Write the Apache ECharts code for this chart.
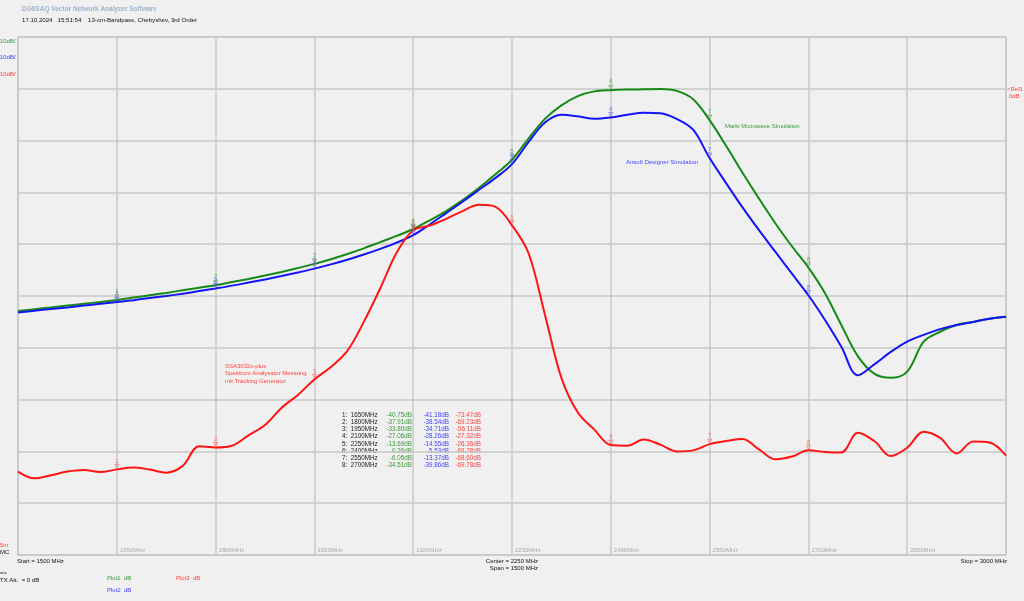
<!DOCTYPE html>
<html>
<head>
<meta charset="utf-8">
<script src="https://cdn.jsdelivr.net/npm/echarts@6/dist/echarts.min.js"></script>
<style>
html, body { margin: 0; padding: 0; background: #f0f0f0; }
#vna { width: 1024px; height: 601px; }
</style>
</head>
<body>
<div id="vna"></div>
<script>
// frequency points (MHz)
var freqs = [1500, 1525, 1550, 1575, 1600, 1625, 1650, 1675, 1700, 1725, 1750, 1775, 1800, 1825, 1850, 1875, 1900, 1925, 1950, 1975,
  2000, 2025, 2050, 2075, 2100, 2125, 2150, 2175, 2200, 2225, 2250, 2275, 2300, 2325, 2350, 2375, 2400, 2425, 2450, 2475,
  2500, 2525, 2550, 2575, 2600, 2625, 2650, 2675, 2700, 2725, 2750, 2775, 2800, 2825, 2850, 2875, 2900, 2925, 2950, 2975, 3000];

// Plot1: Marki Microwave Simulation (dB)
var plot1 = [-42.9, -42.55, -42.2, -41.85, -41.5, -41.15, -40.75, -40.3, -39.85, -39.4, -38.9, -38.4, -37.91, -37.3, -36.7, -36.05, -35.35, -34.6, -33.8, -32.9,
  -31.9, -30.8, -29.6, -28.4, -27.06, -25.4, -23.6, -21.5, -19.1, -16.5, -13.69, -9.6, -5.8, -3.2, -1.4, -0.5, -0.26, -0.15, -0.1, -0.05,
  -0.4, -2.0, -6.05, -11.0, -16.2, -21.2, -26.0, -30.4, -34.51, -39.4, -45.6, -51.6, -55.0, -55.8, -54.6, -48.8, -46.9, -45.6, -45.0, -44.4, -44.0];

// Plot2: Ansoft Designer Simulation (dB)
var plot2 = [-43.2, -42.85, -42.5, -42.2, -41.85, -41.5, -41.18, -40.8, -40.4, -40.0, -39.55, -39.05, -38.54, -38.0, -37.4, -36.8, -36.15, -35.45, -34.71, -33.9,
  -33.0, -32.0, -30.9, -29.7, -28.26, -26.2, -24.0, -21.8, -19.5, -17.2, -14.55, -10.3, -6.5, -5.0, -5.3, -5.8, -5.53, -5.0, -4.6, -4.7,
  -5.8, -7.9, -13.37, -18.2, -22.9, -27.3, -31.5, -35.7, -39.86, -44.6, -49.8, -55.3, -53.2, -50.8, -48.8, -47.5, -46.4, -45.6, -45.0, -44.4, -44.0];

// Plot3: SSA3032x-plus measurement (dB)
var plot3 = [-73.9, -75.2, -74.6, -73.9, -73.6, -74.0, -73.47, -73.1, -73.5, -74.1, -72.8, -69.0, -69.23, -68.9, -66.9, -64.9, -61.6, -59.1, -56.11, -53.7,
  -50.6, -45.0, -38.5, -31.6, -27.32, -26.4, -25.1, -23.6, -22.4, -22.8, -26.36, -31.7, -43.6, -55.8, -62.5, -65.8, -68.78, -68.9, -67.7, -68.7,
  -70.0, -69.8, -68.6, -68.0, -67.6, -69.6, -71.5, -71.0, -69.78, -70.1, -70.2, -66.4, -68.0, -70.9, -69.3, -66.2, -67.4, -70.4, -68.1, -68.3, -70.8];

// markers
var markerFreqs = [1650, 1800, 1950, 2100, 2250, 2400, 2550, 2700];
var markerPlot1 = [-40.75, -37.91, -33.80, -27.06, -13.69, -0.26, -6.05, -34.51];
var markerPlot2 = [-41.18, -38.54, -34.71, -28.26, -14.55, -5.53, -13.37, -39.86];
var markerPlot3 = [-73.47, -69.23, -56.11, -27.32, -26.36, -68.78, -68.60, -69.78];

var FONT = '"Liberation Sans", Arial, sans-serif';
var cGreen = '#168a16', cBlue = '#1414f5', cRed = '#ff1414';
var tGreen = '#3a9a3a', tBlue = '#4444ff', tRed = '#ff4444';

var dom = document.getElementById('vna');
var myChart = echarts.init(dom, null, { renderer: 'canvas' });

function pairs(ys) { return freqs.map(function (f, i) { return [f, ys[i]]; }); }
function mpairs(ys) { return markerFreqs.map(function (f, i) { return [f, ys[i]]; }); }

function markerSeries(ys, col) {
  return {
    type: 'scatter',
    data: mpairs(ys),
    symbol: 'triangle',
    symbolRotate: 180,
    symbolSize: 4,
    symbolOffset: [0, -3],
    itemStyle: { color: 'rgba(0,0,0,0)', borderColor: col, borderWidth: 0.8 },
    label: {
      show: true, position: 'top', distance: 0,
      formatter: function (p) { return String(p.dataIndex + 1); },
      color: col, fontSize: 6, fontFamily: FONT
    },
    silent: true, z: 5
  };
}

function txt(x, y, text, fill, font, align) {
  return {
    type: 'text', x: x, y: y, silent: true,
    style: { text: text, fill: fill, font: font || ('6px ' + FONT), align: align || 'left', verticalAlign: 'middle' }
  };
}

var g = [];
g.push(txt(22, 9, 'DG8SAQ Vector Network Analyzer Software', '#9fb3cc', 'bold 6.5px ' + FONT));
g.push(txt(22, 20, '17.10.2024   15:51:54    13-cm-Bandpass, Chebyshev, 3rd Order', '#111', '6.1px ' + FONT));
g.push(txt(0, 41, '10dB/', tGreen));
g.push(txt(0, 57, '10dB/', tBlue));
g.push(txt(0, 74, '10dB/', tRed));
g.push(txt(1007, 89, '<Ref1', tRed));
g.push(txt(1009, 96, '0dB', tRed));
g.push(txt(0, 545, '5m', tRed));
g.push(txt(0, 552, 'MC', '#111'));
g.push(txt(17, 561, 'Start = 1500 MHz', '#111'));
g.push(txt(538, 561, 'Center = 2250 MHz', '#111', null, 'right'));
g.push(txt(538, 568, 'Span = 1500 MHz', '#111', null, 'right'));
g.push(txt(1007, 561, 'Stop = 3000 MHz', '#111', null, 'right'));
g.push(txt(0, 573, '=>', '#111'));
g.push(txt(0, 580, 'TX Att.  = 0 dB', '#111'));
g.push(txt(107, 578, 'Plot1  dB', tGreen));
g.push(txt(176, 578, 'Plot3  dB', tRed));
g.push(txt(107, 590, 'Plot2  dB', tBlue));
g.push(txt(725, 126, 'Marki Microwave Simulation', tGreen));
g.push(txt(626, 162, 'Ansoft Designer Simulation', tBlue));
g.push(txt(225, 366, 'SSA3032x-plus', tRed));
g.push(txt(225, 373.5, 'Spektrum Analysator Messung', tRed));
g.push(txt(225, 381, 'mit Tracking Generator', tRed));

// marker table
markerFreqs.forEach(function (f, i) {
  var y = 415 + i * 7.2;
  g.push(txt(342, y, (i + 1) + ':  ' + f + 'MHz', '#222', '6.3px ' + FONT));
  g.push(txt(412, y, markerPlot1[i].toFixed(2) + 'dB', tGreen, '6.3px ' + FONT, 'right'));
  g.push(txt(449, y, markerPlot2[i].toFixed(2) + 'dB', tBlue, '6.3px ' + FONT, 'right'));
  g.push(txt(481, y, markerPlot3[i].toFixed(2) + 'dB', tRed, '6.3px ' + FONT, 'right'));
});

var option = {
  animation: false,
  backgroundColor: '#f0f0f0',
  grid: { left: 18, right: 18, top: 37, bottom: 46, show: true, borderColor: '#c4c4c4', borderWidth: 1.5, backgroundColor: 'transparent' },
  xAxis: {
    type: 'value', min: 1500, max: 3000, interval: 150,
    axisLine: { show: false }, axisTick: { show: false },
    splitLine: { show: true, lineStyle: { color: '#c8c8c8', width: 1.5 } },
    axisLabel: {
      inside: true, margin: 2, align: 'left', padding: [0, 0, 0, 3],
      color: '#aaaaaa', fontSize: 6, fontFamily: FONT,
      formatter: function (v) { return (v === 1500 || v === 3000) ? '' : v + 'MHz'; }
    }
  },
  yAxis: {
    type: 'value', min: -90, max: 10, interval: 10,
    axisLine: { show: false }, axisTick: { show: false }, axisLabel: { show: false },
    splitLine: { show: true, lineStyle: { color: '#c8c8c8', width: 1.5 } }
  },
  series: [
    { name: 'Plot1', type: 'line', data: pairs(plot1), showSymbol: false, smooth: 0.35, lineStyle: { color: cGreen, width: 2 }, z: 2 },
    { name: 'Plot2', type: 'line', data: pairs(plot2), showSymbol: false, smooth: 0.35, lineStyle: { color: cBlue, width: 2 }, z: 3 },
    { name: 'Plot3', type: 'line', data: pairs(plot3), showSymbol: false, smooth: 0.35, lineStyle: { color: cRed, width: 2 }, z: 4 },
    markerSeries(markerPlot1, '#4a9a4a'),
    markerSeries(markerPlot2, '#5a5aff'),
    markerSeries(markerPlot3, '#ff5a5a')
  ],
  graphic: g
};

myChart.setOption(option, true);
</script>
</body>
</html>
